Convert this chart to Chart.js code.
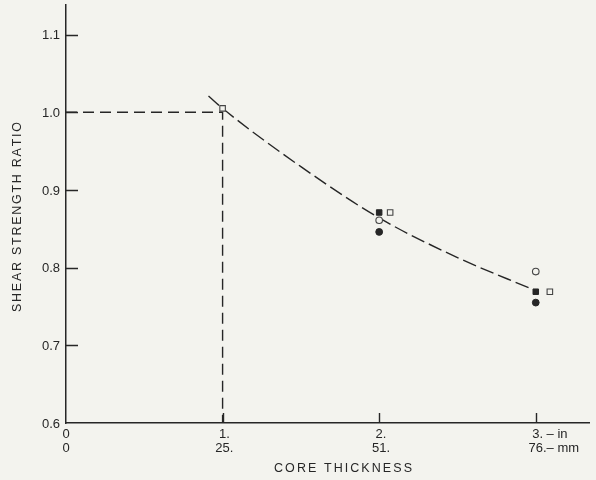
<!DOCTYPE html>
<html>
<head>
<meta charset="utf-8">
<script src="https://cdn.jsdelivr.net/npm/chart.js@4.4.0/dist/chart.umd.min.js"></script>
<style>
  html, body { margin: 0; padding: 0; background: #f3f3ee; }
  #wrap { width: 596px; height: 480px; }
</style>
</head>
<body>
<div id="wrap"><canvas id="chart" width="596" height="480"></canvas></div>
<script>
// Core thickness ticks (inches) with their inch / millimetre labels
const thicknessTicks = [0, 1, 2, 3];
const inchLabels = ['0', '1.', '2.', '3. \u2013 in'];
const mmLabels = ['0', '25.', '51.', '76.\u2013 mm'];

// Shear strength ratio ticks
const ratioTicks = [0.6, 0.7, 0.8, 0.9, 1.0, 1.1];
const ratioLabels = ['0.6', '0.7', '0.8', '0.9', '1.0', '1.1'];

// Measured ratios, one series per marker type
const openSquareX = [1.0, 2.07, 3.09];
const openSquareY = [1.005, 0.871, 0.769];
const filledSquareX = [2, 3];
const filledSquareY = [0.871, 0.769];
const openCircleX = [2, 3];
const openCircleY = [0.861, 0.795];
const filledCircleX = [2, 3];
const filledCircleY = [0.846, 0.755];

// Fitted trend curve
const fitX = [0.91, 1.0, 1.5, 2.0, 2.5, 2.98];
const fitY = [1.021, 1.005, 0.930, 0.864, 0.813, 0.772];

// Reference lines at the 1 in core
const refX = [0, 1, 1];
const refY = [1.0, 1.0, 0.6];

const xTitle = 'CORE THICKNESS';
const yTitle = 'SHEAR STRENGTH RATIO';

const BG = '#f3f3ee';
const INK = '#262626';
const FONT = '"Liberation Sans", Arial, sans-serif';

const pts = (xs, ys) => xs.map((x, i) => ({ x, y: ys[i] }));

// draw text with even letter spacing so it spans a given width
function spacedText(ctx, text, cx, cy, width) {
  const chars = [...text];
  const widths = chars.map(c => ctx.measureText(c).width);
  const natural = widths.reduce((a, b) => a + b, 0);
  const gap = (width - natural) / (chars.length - 1);
  let x = cx - width / 2;
  ctx.textAlign = 'left';
  ctx.textBaseline = 'middle';
  chars.forEach((c, i) => { ctx.fillText(c, x, cy); x += widths[i] + gap; });
}

const background = {
  id: 'background',
  beforeDraw(chart) {
    const { ctx, width, height } = chart;
    ctx.save();
    ctx.fillStyle = BG;
    ctx.fillRect(0, 0, width, height);
    ctx.restore();
  }
};

const axisDecor = {
  id: 'axisDecor',
  afterDraw(chart) {
    const { ctx, chartArea: a, scales: { x, y } } = chart;
    ctx.save();
    ctx.strokeStyle = INK;
    ctx.lineWidth = 1.4;
    ctx.beginPath();
    ratioTicks.forEach(v => {
      if (v === y.min) return;
      const py = Math.round(y.getPixelForValue(v)) + 0.5;
      ctx.moveTo(a.left, py); ctx.lineTo(a.left + 12, py);
    });
    thicknessTicks.forEach(v => {
      if (v === x.min) return;
      const px = Math.round(x.getPixelForValue(v)) + 0.5;
      ctx.moveTo(px, a.bottom); ctx.lineTo(px, a.bottom - 10);
    });
    ctx.stroke();

    ctx.fillStyle = INK;
    ctx.font = '13px ' + FONT;
    ctx.textBaseline = 'middle';
    ctx.textAlign = 'right';
    ratioTicks.forEach((v, i) => {
      ctx.fillText(ratioLabels[i], a.left - 6, y.getPixelForValue(v) + 1);
    });

    ctx.textAlign = 'left';
    thicknessTicks.forEach((v, i) => {
      const px = x.getPixelForValue(v);
      [inchLabels[i], mmLabels[i]].forEach((t, j) => {
        const head = t.split('.')[0];
        const w = ctx.measureText(head).width;
        ctx.fillText(t, px - w / 2, a.bottom + 11 + j * 14.5);
      });
    });

    ctx.font = '12.5px ' + FONT;
    spacedText(ctx, xTitle, 343, 469, 138);
    ctx.translate(18, 217);
    ctx.rotate(-Math.PI / 2);
    spacedText(ctx, yTitle, 0, 0, 190);
    ctx.restore();
  }
};

new Chart(document.getElementById('chart'), {
  type: 'scatter',
  data: {
    datasets: [
      { data: pts(filledSquareX, filledSquareY), pointStyle: 'rect', pointRadius: 3.9,
        backgroundColor: INK, borderColor: INK, borderWidth: 1 },
      { data: pts(openSquareX, openSquareY), pointStyle: 'rect', pointRadius: 3.9,
        backgroundColor: BG, borderColor: '#444', borderWidth: 1.1 },
      { data: pts(openCircleX, openCircleY), pointStyle: 'circle', pointRadius: 3.3,
        backgroundColor: BG, borderColor: '#444', borderWidth: 1.1 },
      { data: pts(filledCircleX, filledCircleY), pointStyle: 'circle', pointRadius: 3.4,
        backgroundColor: INK, borderColor: INK, borderWidth: 1 },
      { data: pts(fitX, fitY), showLine: true, pointRadius: 0, borderColor: INK,
        borderWidth: 1.4, borderDash: [14, 5], cubicInterpolationMode: 'monotone' },
      { data: pts(refX, refY), showLine: true, pointRadius: 0, borderColor: INK,
        borderWidth: 1.4, borderDash: [11, 6], tension: 0 }
    ]
  },
  options: {
    responsive: false,
    animation: false,
    devicePixelRatio: 1,
    layout: { padding: { left: 66, top: 5, right: 7, bottom: 57 } },
    plugins: { legend: { display: false }, tooltip: { enabled: false } },
    events: [],
    scales: {
      x: {
        type: 'linear', min: 0, max: 3.34,
        grid: { display: false, drawTicks: false },
        ticks: { display: false },
        border: { color: INK, width: 1.5 },
        afterFit(s) { s.height = 0; }
      },
      y: {
        type: 'linear', min: 0.6, max: 1.138,
        grid: { display: false, drawTicks: false },
        ticks: { display: false },
        border: { color: INK, width: 1.5 },
        afterFit(s) { s.width = 0; }
      }
    }
  },
  plugins: [background, axisDecor]
});
</script>
</body>
</html>
